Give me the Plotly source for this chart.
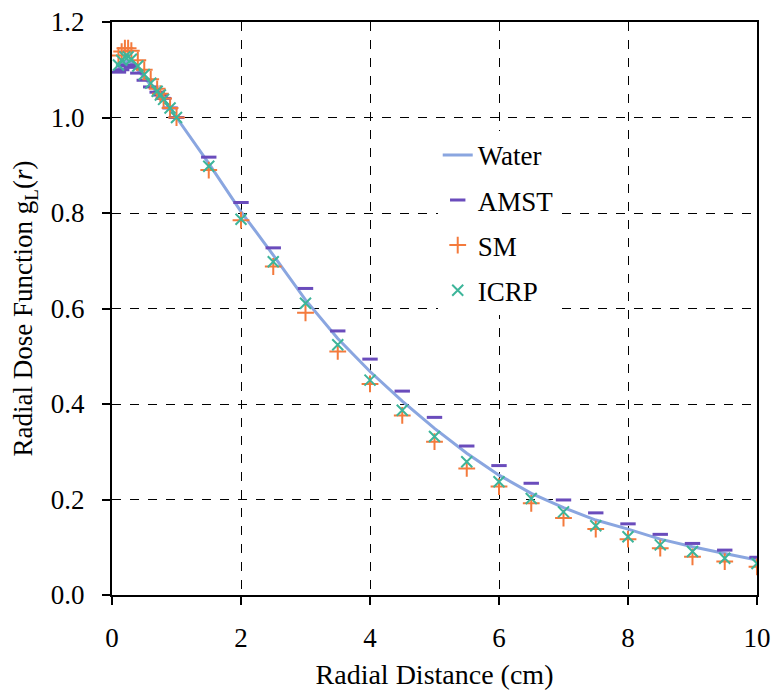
import plotly.graph_objects as go

r = [0.1, 0.15, 0.2, 0.25, 0.3, 0.4, 0.5, 0.6, 0.7, 0.75, 0.8, 0.9, 1.0,
     1.5, 2.0, 2.5, 3.0, 3.5, 4.0, 4.5, 5.0, 5.5, 6.0, 6.5, 7.0, 7.5, 8.0,
     8.5, 9.0, 9.5, 10.0]

water = [1.100, 1.110, 1.116, 1.118, 1.115, 1.100, 1.085, 1.068, 1.052, 1.045, 1.037, 1.020, 1.000,
         0.904, 0.803, 0.712, 0.618, 0.537, 0.468, 0.406, 0.349, 0.297, 0.251, 0.213, 0.183,
         0.157, 0.138, 0.117, 0.101, 0.087, 0.073]

amst = [1.095, 1.100, 1.108, 1.110, 1.105, 1.093, 1.078, 1.064, 1.053, 1.047, 1.040, 1.020, 1.000,
        0.917, 0.822, 0.727, 0.642, 0.553, 0.494, 0.427, 0.372, 0.312, 0.271, 0.234, 0.199,
        0.172, 0.149, 0.127, 0.108, 0.094, 0.079]

sm = [1.130, 1.138, 1.145, 1.145, 1.140, 1.120, 1.100, 1.080, 1.060, 1.050, 1.040, 1.020, 1.000,
      0.890, 0.785, 0.688, 0.591, 0.510, 0.442, 0.376, 0.321, 0.265, 0.227, 0.192, 0.161,
      0.138, 0.117, 0.098, 0.080, 0.070, 0.059]

icrp = [1.110, 1.120, 1.127, 1.127, 1.122, 1.108, 1.090, 1.072, 1.055, 1.047, 1.038, 1.020, 1.000,
        0.898, 0.787, 0.698, 0.611, 0.524, 0.450, 0.387, 0.332, 0.279, 0.237, 0.202, 0.174,
        0.145, 0.122, 0.105, 0.091, 0.077, 0.066]

x_ticks = [0, 2, 4, 6, 8, 10]
y_ticks = [0.0, 0.2, 0.4, 0.6, 0.8, 1.0, 1.2]

FONT = "Liberation Serif"

fig = go.Figure()
fig.add_trace(go.Scatter(x=r, y=water, mode="lines", name="Water", legendgroup="a",
                         line=dict(color="#8aa6e0", width=3)))
fig.add_trace(go.Scatter(x=r, y=amst, mode="markers", name="AMST", legendgroup="b",
                         marker=dict(symbol="line-ew", size=11,
                                     line=dict(color="#6a4cbc", width=3))))
fig.add_trace(go.Scatter(x=r, y=sm, mode="markers", name="SM", legendgroup="c",
                         marker=dict(symbol="cross-thin", size=12,
                                     line=dict(color="#f47a3c", width=2))))
fig.add_trace(go.Scatter(x=r, y=icrp, mode="markers", name="ICRP", legendgroup="d",
                         marker=dict(symbol="x-thin", size=11,
                                     line=dict(color="#3db59a", width=2))))

axis_common = dict(
    showline=True, linecolor="black", linewidth=2, mirror=True,
    ticks="outside", ticklen=8, tickwidth=2, tickcolor="black",
    showgrid=True, gridcolor="black", griddash="dash", gridwidth=1.3,
    zeroline=False, tickfont=dict(family=FONT, size=27, color="black"),
    ticklabeloverflow="allow",
)

fig.update_xaxes(range=[-0.0001, 10.0001], tickvals=x_ticks, ticktext=[str(v) for v in x_ticks],
                 ticklabelstandoff=10,
                 title=dict(text="Radial Distance (cm)", font=dict(family=FONT, size=28, color="black"),
                            standoff=12),
                 **axis_common)
fig.update_yaxes(range=[-0.00001, 1.20001], tickvals=y_ticks, ticktext=[f"{v:.1f}" for v in y_ticks],
                 ticklabelstandoff=12,
                 title=dict(text="Radial Dose Function g<sub>L</sub>(<i>r</i>)",
                            font=dict(family=FONT, size=27, color="black"), standoff=10),
                 **axis_common)

fig.update_layout(
    width=771, height=691,
    margin=dict(l=112, r=14, t=22, b=96, autoexpand=False),
    paper_bgcolor="white", plot_bgcolor="white",
    font=dict(family=FONT, color="black"),
    legend=dict(x=0.505, y=0.81, xanchor="left", yanchor="top",
                font=dict(family=FONT, size=27, color="black"),
                bgcolor="rgba(255,255,255,1)", tracegroupgap=7, itemwidth=30),
)

post = ("document.body.style.margin='0';document.body.style.overflow='hidden';"
        "document.documentElement.style.overflow='hidden';")

fig.write_html("out.html", post_script=post, config={"displayModeBar": False})
